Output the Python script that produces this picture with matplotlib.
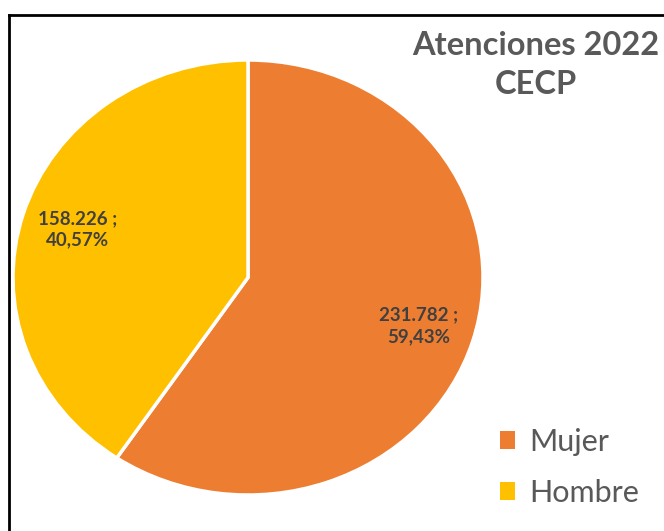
import matplotlib
matplotlib.use("Agg")
import matplotlib.pyplot as plt
from matplotlib.patches import Patch
from matplotlib.lines import Line2D
import numpy as np

# data
categorias = ["Mujer", "Hombre"]
atenciones = [231782, 158226]
etiquetas = ["231.782 ;\n59,43%", "158.226 ;\n40,57%"]
colores = ["#ED7D31", "#FFC000"]
titulo = "Atenciones 2022\nCECP"

plt.rcParams['font.family'] = ['Lato', 'DejaVu Sans']

fig = plt.figure(figsize=(6.64, 5.31), dpi=100)
ax = fig.add_axes([13/664, 36/531, 470/664, 435/531])

wedges, _ = ax.pie(atenciones, colors=colores, startangle=90, counterclock=False,
                   wedgeprops=dict(edgecolor='white', linewidth=2.5))
ax.set_aspect('auto')
ax.set_xlim(-1, 1)
ax.set_ylim(-1, 1)

# data labels inside the slices
for w, txt in zip(wedges, etiquetas):
    mid = np.deg2rad((w.theta1 + w.theta2) / 2)
    ax.text(0.76 * np.cos(mid), 0.76 * np.sin(mid), txt, ha='center', va='center',
            fontsize=13.5, fontweight='bold', color='#404040', linespacing=1.3)

fig.text(0.807, 1 - 65/531, titulo, ha='center', va='center', fontsize=23.5,
         fontweight='bold', color='#595959', linespacing=1.42)

handles = [Patch(facecolor=c, edgecolor='none') for c in colores]
fig.legend(handles, categorias, loc='center left', bbox_to_anchor=(500/664, 1 - 467.5/531),
           frameon=False, fontsize=22, labelcolor='#595959', handlelength=0.5,
           handleheight=0.5, handletextpad=0.45, labelspacing=0.75,
           borderpad=0, borderaxespad=0)

# chart border (top and left edges visible)
fig.add_artist(Line2D([9/664, 9/664], [0, 1 - 14.5/531], color='black', lw=2))
fig.add_artist(Line2D([9/664, 1], [1 - 14.5/531, 1 - 14.5/531], color='black', lw=2))

fig.savefig("out.png", dpi=100)
